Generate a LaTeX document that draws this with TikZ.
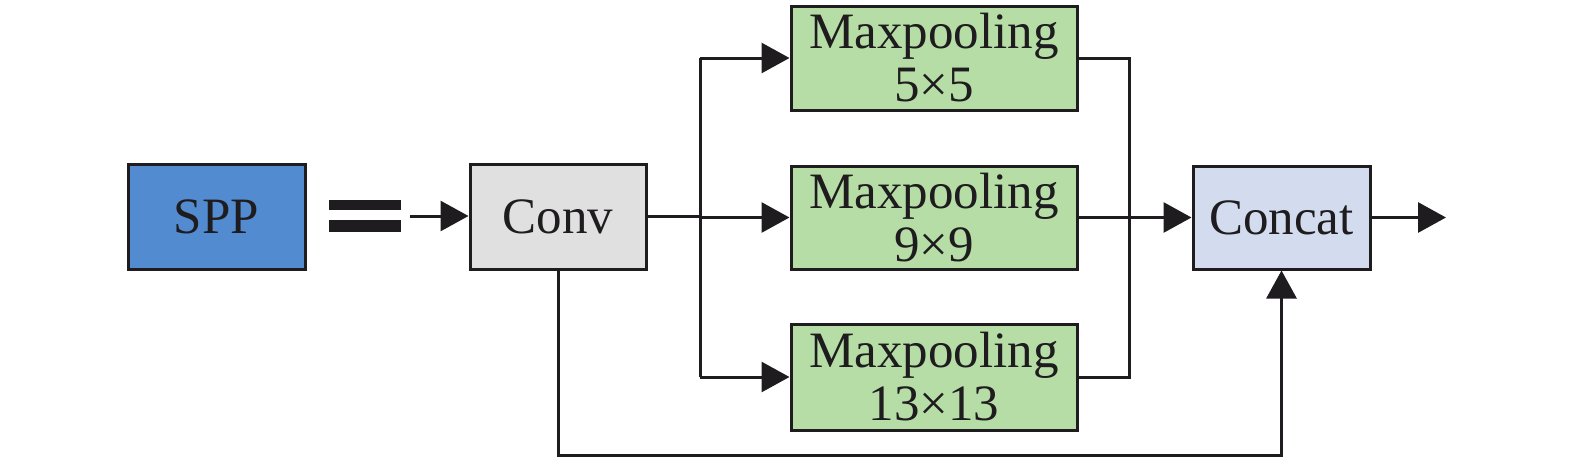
\documentclass[tikz,border=0pt]{standalone}
\usepackage{fontspec}
\setmainfont{Liberation Serif}
\usetikzlibrary{arrows.meta}
\definecolor{sppblue}{RGB}{82,139,208}
\definecolor{convgray}{RGB}{224,224,224}
\definecolor{poolgreen}{RGB}{182,221,166}
\definecolor{catblue}{RGB}{211,220,238}
\definecolor{ink}{RGB}{30,28,30}
\begin{document}
\begin{tikzpicture}[x=1pt,y=-1pt,
  box/.style={draw=ink,line width=3pt,inner sep=0pt,align=center,
    font=\fontsize{51}{53}\selectfont,text=ink},
  conn/.style={draw=ink,line width=3pt},
  arr/.style={conn,-{Triangle[length=28pt,width=30pt]}}]
\useasboundingbox (0,0) rectangle (1575,463);
\node[box,fill=sppblue,minimum width=177pt,minimum height=105pt] (spp) at (216.5,216.5) {SPP};
\node[box,fill=convgray,minimum width=176pt,minimum height=105pt] (conv) at (558,216.5) {Conv};
\node[box,fill=poolgreen,minimum width=286pt,minimum height=104pt] (p1) at (934,58) {Maxpooling\\5×5};
\node[box,fill=poolgreen,minimum width=286pt,minimum height=103pt] (p2) at (934,217.5) {Maxpooling\\9×9};
\node[box,fill=poolgreen,minimum width=286pt,minimum height=106pt] (p3) at (934,377) {Maxpooling\\13×13};
\node[box,fill=catblue,minimum width=177pt,minimum height=103pt] (cat) at (1281.5,217.5) {Concat};
% equals bars
\fill[ink] (329,200) rectangle (401,210);
\fill[ink] (329,220) rectangle (401,232);
\coordinate (ain) at (410,216);
\draw[arr] (ain) -- (conv.west |- ain);
% branches
\coordinate (bx) at (700,216);
\draw[conn] (conv.east |- bx) -- (bx);
\draw[conn] (bx |- p1.east) -- (bx |- p3.east);
\draw[arr] (bx |- p1.west) -- (p1.west);
\draw[arr] (bx |- p2.west) -- (p2.west);
\draw[arr] (bx |- p3.west) -- (p3.west);
% merge
\coordinate (mx) at (1129,216);
\draw[conn] (p1.east) -- (mx |- p1.east) -- (mx |- p3.east) -- (p3.east);
\draw[arr] (p2.east) -- (cat.west |- p2.east);
% output
\coordinate (out) at (1446,217.5);
\draw[arr] (cat.east) -- (out);
% bottom skip
\coordinate (bl) at (558,455);
\draw[arr] (conv.south) -- (bl) -- (cat.south |- bl) -- (cat.south);
\end{tikzpicture}
\end{document}
